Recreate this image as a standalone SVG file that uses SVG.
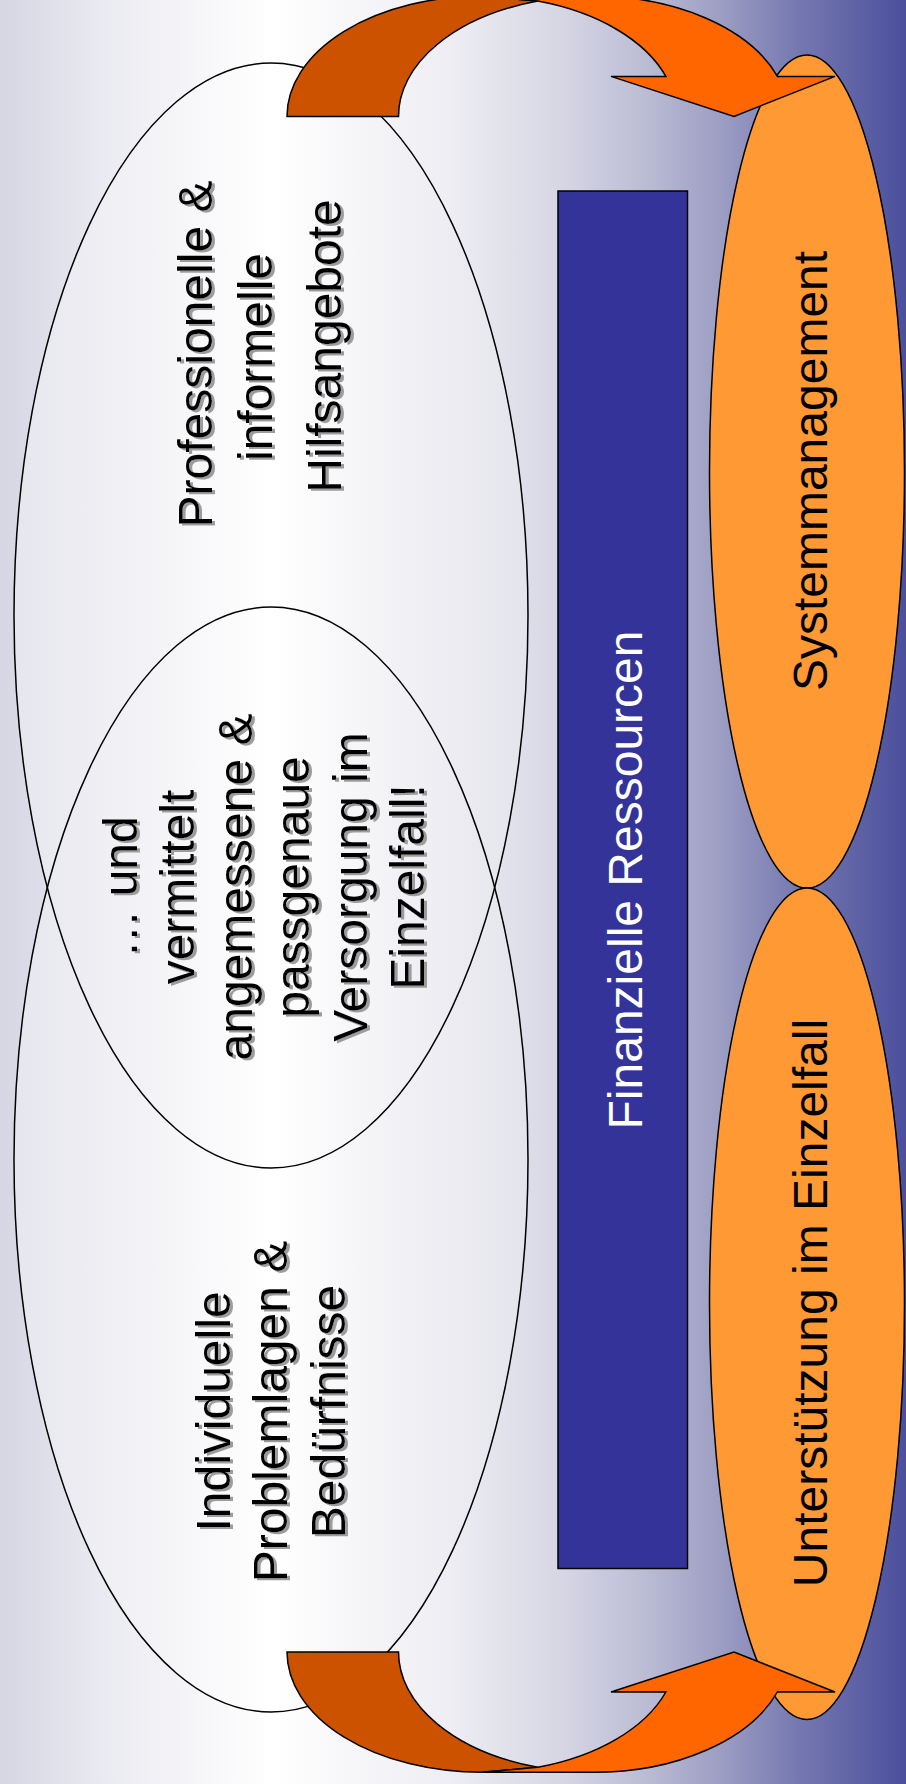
<svg xmlns="http://www.w3.org/2000/svg" width="906" height="1784" viewBox="0 0 906 1784">
<defs>
  <linearGradient id="bg" gradientUnits="userSpaceOnUse" x1="0" y1="0" x2="906" y2="0">
    <stop offset="0" stop-color="#d6d6e4"/>
    <stop offset="0.12" stop-color="#ebebf2"/>
    <stop offset="0.3" stop-color="#ffffff"/>
    <stop offset="0.5" stop-color="#ededf3"/>
    <stop offset="0.62" stop-color="#d6d6e4"/>
    <stop offset="0.71" stop-color="#bcbdd5"/>
    <stop offset="0.80" stop-color="#9a9cc2"/>
    <stop offset="0.88" stop-color="#7679b0"/>
    <stop offset="1" stop-color="#4b4f9c"/>
  </linearGradient>
  <linearGradient id="venn" gradientUnits="userSpaceOnUse" x1="14" y1="0" x2="528" y2="0">
    <stop offset="0" stop-color="#e6e6ee"/>
    <stop offset="0.5" stop-color="#ffffff"/>
    <stop offset="1" stop-color="#e4e4ec"/>
  </linearGradient>
  <filter id="shadow" x="-10%" y="-10%" width="130%" height="130%">
    <feOffset in="SourceAlpha" dx="2.5" dy="2" result="off"/>
    <feFlood flood-color="#9c9c9c"/>
    <feComposite in2="off" operator="in" result="sh"/>
    <feMerge><feMergeNode in="sh"/><feMergeNode in="SourceGraphic"/></feMerge>
  </filter>
  <path id="band-back" d="M482,1772.3 A195,120.3 0 0 1 287,1652 L398.5,1652 A195,120.3 0 0 0 537.75,1767.3 Z"/>
  <path id="band-front" d="M537.75,1767.3 A195,120.3 0 0 0 665.9,1692 L611,1692 L734,1652 L835,1692 L777.4,1692 A195,120.3 0 0 1 593.5,1772.3 L482,1772.3 Z"/>
</defs>
<style>
  .venn-fill { fill: url(#venn); stroke: none; }
  .outline { fill: none; stroke: #000; stroke-width: 1.5; }
  .orange { fill: #ff9933; stroke: #000; stroke-width: 1.5; }
  .bar { fill: #333399; stroke: #000; stroke-width: 1.5; }
  .back { fill: #cc5200; stroke: #000; stroke-width: 1.5; }
  .front { fill: #ff6600; stroke: #000; stroke-width: 1.5; }
  text { font-family: "Liberation Sans", Arial, sans-serif; font-size: 48px; text-anchor: middle; fill: #000; }
  .white { fill: #ffffff; }
</style>

<rect id="background" x="0" y="0" width="906" height="1784" fill="url(#bg)"/>

<g id="node-hilfsangebote">
  <ellipse class="venn-fill" cx="271" cy="615.5" rx="257" ry="552.5"/>
</g>
<g id="node-problemlagen">
  <ellipse class="venn-fill" cx="271" cy="1159.5" rx="257" ry="552.5"/>
</g>
<g id="venn-outlines">
  <ellipse class="outline" cx="271" cy="615.5" rx="257" ry="552.5"/>
  <ellipse class="outline" cx="271" cy="1159.5" rx="257" ry="552.5"/>
</g>

<g id="node-finanzielle-ressourcen">
  <rect class="bar" x="558" y="191" width="129.5" height="1377.5"/>
  <text class="white" transform="translate(642 880) rotate(-90)">Finanzielle Ressourcen</text>
</g>

<g id="node-systemmanagement">
  <ellipse class="orange" cx="807" cy="471.5" rx="97.5" ry="416.5"/>
  <text transform="translate(827 471) rotate(-90)">Systemmanagement</text>
</g>

<g id="node-unterstuetzung">
  <ellipse class="orange" cx="807" cy="1303.75" rx="97.5" ry="415.75"/>
  <text transform="translate(827 1303) rotate(-90)">Unterstützung im Einzelfall</text>
</g>

<g id="connectors">
  <g id="arrow-top" transform="matrix(1 0 0 -1 0 1768.4)">
    <use href="#band-back" class="back"/>
    <use href="#band-front" class="front"/>
  </g>
  <g id="arrow-bottom">
    <use href="#band-back" class="back"/>
    <use href="#band-front" class="front"/>
  </g>
</g>

<g id="labels-venn" filter="url(#shadow)">
  <g id="label-hilfsangebote">
    <text transform="translate(212 354) rotate(-90)">Professionelle &amp;</text>
    <text transform="translate(272 357) rotate(-90)">informelle</text>
    <text transform="translate(341 346) rotate(-90)">Hilfsangebote</text>
  </g>
  <g id="label-versorgung">
    <text transform="translate(137 887) rotate(-90)">… und</text>
    <text transform="translate(194 887) rotate(-90)">vermittelt</text>
    <text transform="translate(252 887) rotate(-90)">angemessene &amp;</text>
    <text transform="translate(309 887) rotate(-90)">passgenaue</text>
    <text transform="translate(367 887) rotate(-90)">Versorgung im</text>
    <text transform="translate(424 887) rotate(-90)">Einzelfall!</text>
  </g>
  <g id="label-problemlagen">
    <text transform="translate(230 1411.5) rotate(-90)">Individuelle</text>
    <text transform="translate(287 1411.5) rotate(-90)">Problemlagen &amp;</text>
    <text transform="translate(345 1411.5) rotate(-90)">Bedürfnisse</text>
  </g>
</g>
</svg>
